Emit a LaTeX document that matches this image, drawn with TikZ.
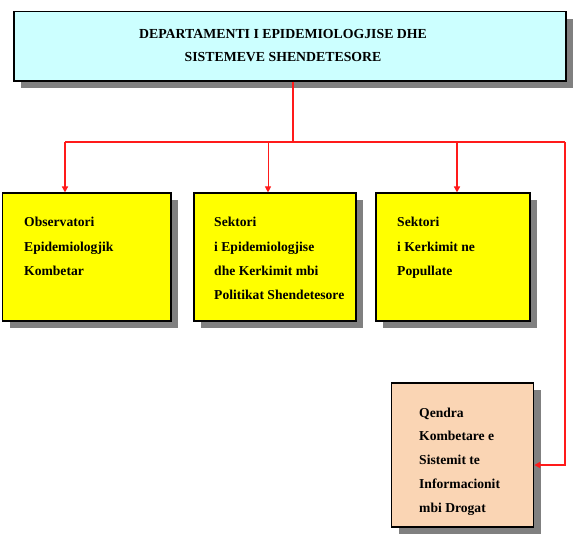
\documentclass[tikz,border=0pt]{standalone}
\usepackage{fontspec}
\setmainfont{Liberation Serif}
\usetikzlibrary{shadows,arrows.meta}
\definecolor{topcyan}{HTML}{CCFFFF}
\definecolor{boxyellow}{HTML}{FFFF00}
\definecolor{peach}{HTML}{FAD5B4}
\definecolor{shadowgray}{HTML}{808080}
\definecolor{linkred}{HTML}{FF1A1A}
\tikzset{
  orgbox/.style={draw=black, line width=1.1bp, inner sep=0pt,
    drop shadow={shadow xshift=7bp, shadow yshift=-7bp, fill=shadowgray, opacity=1}},
  boxtext/.style={anchor=base west, inner sep=0pt, align=left,
    font=\fontsize{13.6bp}{24bp}\selectfont\bfseries},
  link/.style={draw=linkred, line width=1.6bp},
  thinlink/.style={draw=linkred, line width=0.9bp},
  tip/.style={-{Triangle[length=6bp,width=6bp]}}
}
\begin{document}
\begin{tikzpicture}[x=1bp,y=-1bp]
\useasboundingbox (0,0) rectangle (573,555);
% boxes
\node[orgbox, fill=topcyan, minimum width=552bp, minimum height=69.5bp] (top) at (290,46.3) {};
\node[orgbox, fill=boxyellow, minimum width=168.4bp, minimum height=128bp] (b1) at (86.8,257) {};
\node[orgbox, fill=boxyellow, minimum width=162bp, minimum height=128bp] (b2) at (275,257) {};
\node[orgbox, fill=boxyellow, minimum width=154bp, minimum height=128bp] (b3) at (453,257) {};
\node[orgbox, fill=peach, minimum width=142bp, minimum height=144bp] (b4) at (462.7,455) {};
% texts (base anchor = baseline of the last line)
\node[anchor=base, inner sep=0pt, align=center, font=\fontsize{13.8bp}{23bp}\selectfont\bfseries] (ttop) at (283,61.5)
  {DEPARTAMENTI I EPIDEMIOLOGJISE DHE\\SISTEMEVE SHENDETESORE};
\node[boxtext] (t1) at (24,275) {Observatori\\Epidemiologjik\\Kombetar};
\node[boxtext] (t2) at (214,299) {Sektori\\i Epidemiologjise\\dhe Kerkimit mbi\\Politikat Shendetesore};
\node[boxtext] (t3) at (397,275) {Sektori\\i Kerkimit ne\\Popullate};
\node[boxtext, font=\fontsize{13.6bp}{23.8bp}\selectfont\bfseries] (t4) at (419,512.2) {Qendra\\Kombetare e\\Sistemit te\\Informacionit\\mbi Drogat};
% connectors
\coordinate (jc) at (293,142);
\coordinate (jl) at (65,142);
\coordinate (jm) at (268,142);
\coordinate (jn) at (457,142);
\coordinate (jr) at (565,142);
\draw[link] (top.south -| jc) -- (jc);
\draw[link] (jl) -- (jr);
\draw[link, tip] (jl) -- (jl |- b1.north);
\draw[thinlink, tip] (jm) -- (jm |- b2.north);
\draw[link, tip] (jn) -- (jn |- b3.north);
\draw[link, tip] (jr) |- ([yshift=-10bp]b4.east);
\end{tikzpicture}
\end{document}
